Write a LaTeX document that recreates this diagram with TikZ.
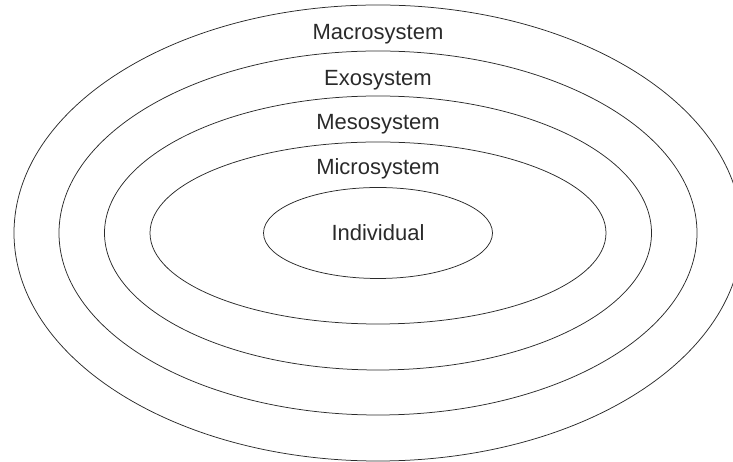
\documentclass[tikz,border=0pt]{standalone}
\usepackage{fontspec}
\setmainfont{Liberation Sans}
\usepackage{tikz}
\usepackage{xcolor}
\usetikzlibrary{positioning,shapes.geometric}
\definecolor{ringink}{HTML}{2A2A2A}
\tikzset{
  ring/.style={ellipse, draw=ringink, line width=0.75pt, inner sep=0pt, minimum width=#1},
  sysLabel/.style={font=\fontsize{22}{26}\selectfont, text=ringink, anchor=base, inner sep=0pt}
}

\begin{document}
\begin{tikzpicture}[x=1pt, y=1pt]
  \useasboundingbox (0,0) rectangle (733,462);
  \clip (0,0) rectangle (733,462);

  % rings, outer to inner
  \node[ring=728pt, minimum height=456pt] (macro) at (378,229) {};
  \node[ring=638pt, minimum height=364pt] (exo) at (378,229) {};
  \node[ring=547pt, minimum height=274pt] (meso) at (378,229) {};
  \node[ring=456pt, minimum height=182pt] (micro) at (378,229) {};
  \node[ring=229pt, minimum height=91pt, font=\fontsize{22}{26}\selectfont, text=ringink] (indiv) at (378,229) {Individual};

  % names in the bands
  \node[sysLabel] (macroLab) at ([yshift=-35pt]macro.north) {Macrosystem};
  \node[sysLabel] (exoLab) at ([yshift=-35pt]exo.north) {Exosystem};
  \node[sysLabel] (mesoLab) at ([yshift=-34pt]meso.north) {Mesosystem};
  \node[sysLabel] (microLab) at ([yshift=-33pt]micro.north) {Microsystem};
\end{tikzpicture}
\end{document}
